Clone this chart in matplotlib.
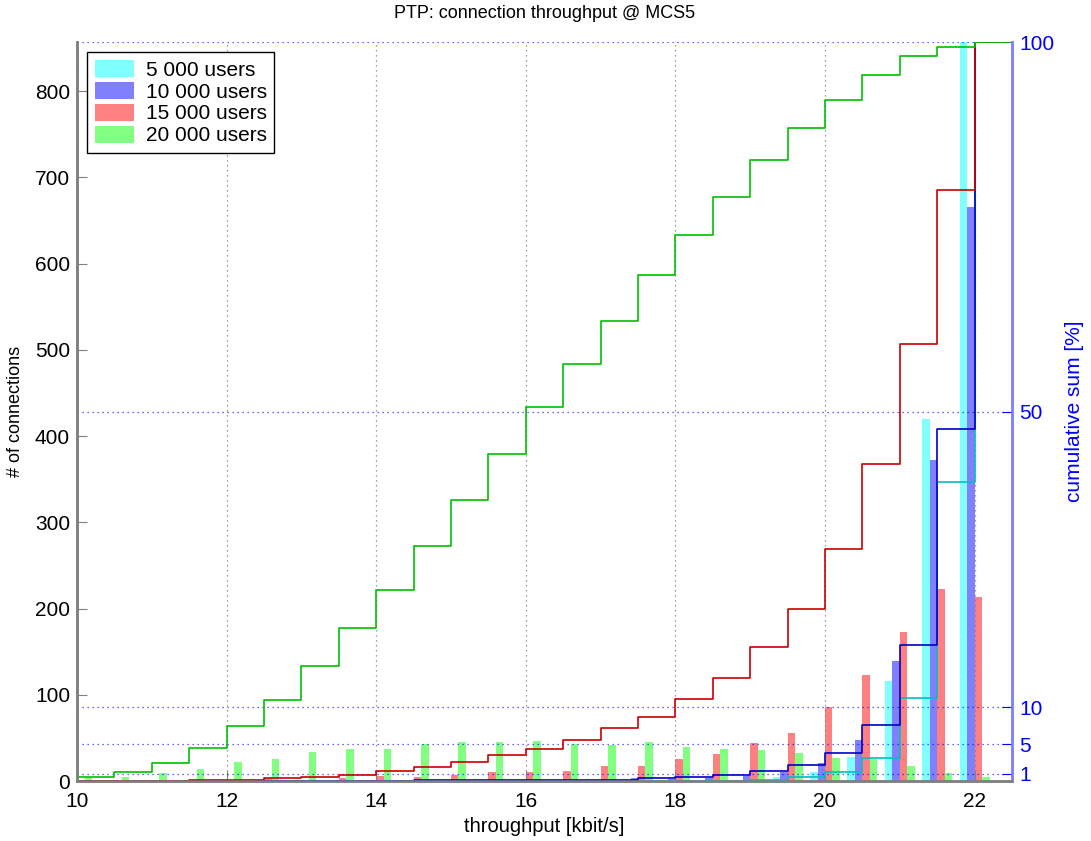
import numpy as np
import matplotlib.pyplot as plt
from matplotlib.patches import Patch

plt.rcParams['font.family'] = ['Liberation Sans', 'DejaVu Sans']

# histogram bin centres [kbit/s]
bins = [10.0, 10.5, 11.0, 11.5, 12.0, 12.5, 13.0, 13.5, 14.0, 14.5, 15.0, 15.5, 16.0,
        16.5, 17.0, 17.5, 18.0, 18.5, 19.0, 19.5, 20.0, 20.5, 21.0, 21.5, 22.0]

# number of connections per bin for each load
users_5k = [0, 0, 0, 0, 0, 0, 0, 0, 0, 0, 0, 0, 0,
            0, 0, 0, 0, 1, 1, 5, 10, 28, 116, 420, 857]
users_10k = [0, 0, 0, 0, 0, 0, 0, 0, 0, 1, 0, 0, 0,
             1, 0, 3, 2, 4, 6, 10, 21, 48, 139, 372, 666]
users_15k = [0, 0, 0, 1, 1, 3, 1, 3, 6, 5, 7, 10, 10,
             12, 17, 17, 25, 31, 44, 56, 86, 123, 173, 223, 214]
users_20k = [4, 5, 9, 14, 22, 25, 34, 37, 37, 43, 45, 45, 46,
             43, 42, 45, 39, 37, 36, 32, 27, 25, 18, 9, 5]

labels = ['5 000 users', '10 000 users', '15 000 users', '20 000 users']
bar_colors = ['#80ffff', '#8080ff', '#ff8080', '#80ff80']
line_colors = ['#00c0c0', '#0000c8', '#c80000', '#00c000']
cum_ticks = [1, 5, 10, 50, 100]

series = [users_5k, users_10k, users_15k, users_20k]
x = np.array(bins)

fig, ax = plt.subplots(figsize=(10.91, 8.41), dpi=100)
fig.subplots_adjust(left=0.0706, right=0.9276, bottom=0.0713, top=0.95)

# grouped bars, 4 per bin
width = 0.1
offsets = [-1.5, -0.5, 0.5, 1.5]
for counts, col, off in zip(series, bar_colors, offsets):
    ax.bar(x + off * width, counts, width=width, color=col, linewidth=0, zorder=1)

ax.set_xlim(10, 22.5)
ax.set_ylim(0, max(users_5k))
ax.set_xticks(np.arange(10, 23, 2))
ax.set_yticks(np.arange(0, 801, 100))
ax.set_axisbelow(False)
ax.grid(axis='x', color='#808080', linestyle=(0, (1, 3)), linewidth=0.9)
ax.tick_params(direction='in', length=7, color='#808080', labelsize=15, pad=5)
ax.tick_params(axis='x', pad=8)
ax.set_xlabel('throughput [kbit/s]', fontsize=14.5, labelpad=4)
ax.set_ylabel('# of connections', fontsize=13, labelpad=8)
ax.set_title('PTP: connection throughput @ MCS5', fontsize=13, pad=17)

# cumulative sums on the right axis
ax2 = ax.twinx()
ax2.set_ylim(0, 100)
for counts, col in zip(series, line_colors):
    cum = np.cumsum(counts) / np.sum(counts) * 100
    ax2.step(np.append(x, 22.5), np.append(cum, cum[-1]), where='post',
             color=col, linewidth=1.2)
ax2.set_yticks(cum_ticks)
ax2.grid(axis='y', color='#0000ff', linestyle=(0, (1, 3)), linewidth=0.9, alpha=0.8)
ax2.tick_params(direction='in', length=7, color='#0000ff', labelcolor='#0000ff',
                labelsize=15, pad=5)
ax2.set_ylabel('cumulative sum [%]', color='#0000ff', fontsize=15, labelpad=8)

for a in (ax, ax2):
    a.spines['top'].set_visible(False)
    a.spines['left'].set_color('#808080')
    a.spines['left'].set_linewidth(1.8)
    a.spines['bottom'].set_color('#808080')
    a.spines['bottom'].set_linewidth(1.8)
    a.spines['right'].set_color('#8080ff')
    a.spines['right'].set_linewidth(1.8)

handles = [Patch(facecolor=c, edgecolor='none') for c in bar_colors]
leg = ax2.legend(handles, labels, loc='upper left', fontsize=15, frameon=True,
                 fancybox=False, edgecolor='black', framealpha=1,
                 handlelength=1.9, handleheight=0.9, labelspacing=0.1,
                 borderaxespad=0.5, borderpad=0.35, handletextpad=0.55)
leg.get_frame().set_linewidth(1.0)

fig.savefig('out.png', dpi=100)
